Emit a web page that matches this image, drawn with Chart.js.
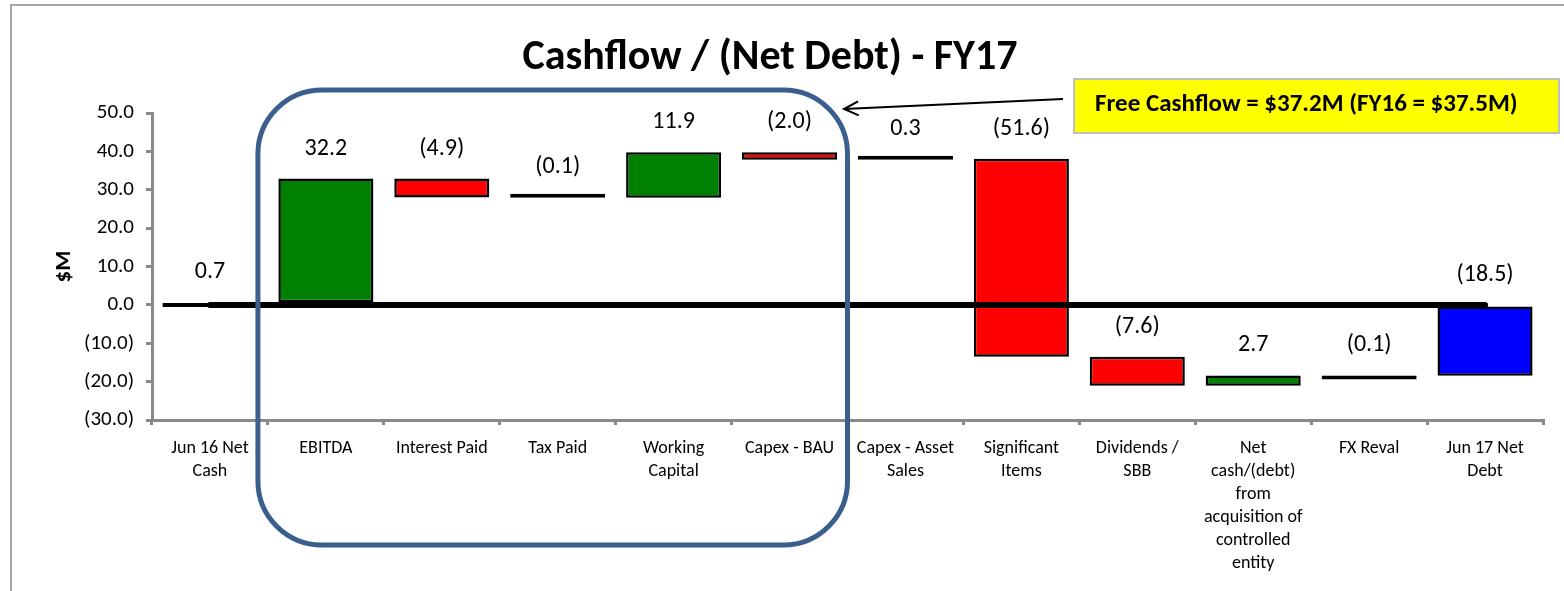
<!DOCTYPE html>
<html>
<head>
<meta charset="utf-8">
<script src="https://cdn.jsdelivr.net/npm/chart.js@4"></script>
<style>
html,body{margin:0;padding:0;background:#fff;}
#wrap{width:1564px;height:591px;position:relative;}
</style>
</head>
<body>
<div id="wrap"><canvas id="c" width="1564" height="591"></canvas></div>
<script>
// ---- data ----
const categories = [
  ["Jun 16 Net", "Cash"],
  ["EBITDA"],
  ["Interest Paid"],
  ["Tax Paid"],
  ["Working", "Capital"],
  ["Capex - BAU"],
  ["Capex - Asset", "Sales"],
  ["Significant", "Items"],
  ["Dividends /", "SBB"],
  ["Net", "cash/(debt)", "from", "acquisition of", "controlled", "entity"],
  ["FX Reval"],
  ["Jun 17 Net", "Debt"]
];
const changes = [0.7, 32.2, -4.9, -0.1, 11.9, -2.0, 0.3, -51.6, -7.6, 2.7, -0.1, -18.5];
const isTotal = [true, false, false, false, false, false, false, false, false, false, false, true];
const barColors = ["#0000FF", "#008000", "#FF0000", "#FF0000", "#008000", "#FF0000", "#008000", "#FF0000", "#FF0000", "#008000", "#FF0000", "#0000FF"];
const yTicks = {min: -30, max: 50, step: 10};
const titleText = "Cashflow / (Net Debt) - FY17";
const yAxisTitle = "$M";
const calloutText = "Free Cashflow = $37.2M (FY16 = $37.5M)";

// build floating ranges for the waterfall
const ranges = [];
let running = 0;
changes.forEach((v, i) => {
  if (isTotal[i]) { ranges.push([0, v]); running = v; }
  else { ranges.push([running, running + v]); running += v; }
});
const zeroLine = categories.map(() => 0);

const FONT = "Carlito, Lato, 'Open Sans', sans-serif";
const fmt = v => v < 0 ? "(" + Math.abs(v).toFixed(1) + ")" : v.toFixed(1);

const decorPlugin = {
  id: 'decor',
  beforeDraw(chart) {
    const ctx = chart.ctx;
    ctx.save();
    ctx.fillStyle = '#fff';
    ctx.fillRect(0, 0, chart.width, chart.height);
    ctx.strokeStyle = '#A6A6A6';
    ctx.lineWidth = 2;
    ctx.strokeRect(11, 5, 1580, 620);
    ctx.restore();
  },
  afterDraw(chart) {
    const ctx = chart.ctx;
    const x = chart.scales.x, y = chart.scales.y;
    const ca = chart.chartArea;
    ctx.save();
    // data labels
    ctx.font = "24px " + FONT;
    ctx.fillStyle = '#000';
    ctx.textAlign = 'center';
    ctx.textBaseline = 'middle';
    const meta = chart.getDatasetMeta(1);
    meta.data.forEach((el, i) => {
      const r = ranges[i];
      const topPx = y.getPixelForValue(Math.max(r[0], r[1]));
      ctx.fillText(fmt(changes[i]), el.x, topPx - 30);
    });
    // title
    ctx.font = "bold 42px " + FONT;
    ctx.fillText(titleText, 770, 58);
    // rounded highlight box
    const cw = x.getPixelForValue(1) - x.getPixelForValue(0);
    const L = x.getPixelForValue(1) - cw / 2 - 10;
    const R = x.getPixelForValue(5) + cw / 2;
    const T = ca.top - 23, B = ca.bottom + 125;
    ctx.strokeStyle = '#3A5F8E';
    ctx.lineWidth = 5;
    ctx.beginPath();
    ctx.roundRect(L, T, R - L, B - T, 64);
    ctx.stroke();
    // callout box
    ctx.fillStyle = '#FFFF00';
    ctx.fillRect(1074, 79, 485, 54);
    ctx.strokeStyle = '#BFBFBF';
    ctx.lineWidth = 2;
    ctx.strokeRect(1074, 79, 485, 54);
    ctx.fillStyle = '#000';
    ctx.font = "bold 25px " + FONT;
    ctx.textAlign = 'left';
    ctx.fillText(calloutText, 1095, 105);
    // arrow
    ctx.strokeStyle = '#000';
    ctx.lineWidth = 2;
    ctx.beginPath();
    ctx.moveTo(1063, 99);
    ctx.lineTo(844, 109);
    ctx.stroke();
    const ang = Math.atan2(109 - 99, 844 - 1063);
    ctx.beginPath();
    ctx.moveTo(844 - 16 * Math.cos(ang - 0.45), 109 - 16 * Math.sin(ang - 0.45));
    ctx.lineTo(844, 109);
    ctx.lineTo(844 - 16 * Math.cos(ang + 0.45), 109 - 16 * Math.sin(ang + 0.45));
    ctx.stroke();
    ctx.restore();
  }
};

new Chart(document.getElementById('c'), {
  data: {
    labels: categories,
    datasets: [
      {
        type: 'line',
        data: zeroLine,
        borderColor: '#000',
        borderWidth: 6,
        borderCapStyle: 'round',
        pointRadius: 0,
        order: 0
      },
      {
        type: 'bar',
        data: ranges,
        backgroundColor: barColors,
        borderColor: '#000',
        borderWidth: 2.5,
        borderSkipped: false,
        minBarLength: 4,
        barPercentage: 0.82,
        categoryPercentage: 1,
        order: 1
      }
    ]
  },
  options: {
    responsive: false,
    animation: false,
    layout: {padding: {left: 50, right: 21, top: 113, bottom: 0}},
    plugins: {legend: {display: false}, tooltip: {enabled: false}, title: {display: false}},
    scales: {
      x: {
        offset: true,
        grid: {display: true, drawOnChartArea: false, drawTicks: true, tickLength: 5, color: '#898989', lineWidth: 3, offset: true},
        border: {display: true, color: '#898989', width: 3},
        ticks: {autoSkip: false, maxRotation: 0, minRotation: 0, padding: 12, color: '#000',
                font: {family: FONT, size: 18, lineHeight: 1.28}},
        afterFit(s) { s.height = 171; }
      },
      y: {
        min: yTicks.min, max: yTicks.max,
        grid: {display: true, drawOnChartArea: false, drawTicks: true, tickLength: 6, color: '#898989', lineWidth: 3},
        border: {display: true, color: '#898989', width: 3},
        ticks: {stepSize: yTicks.step, padding: 12, color: '#000', font: {family: FONT, size: 21},
                callback: v => fmt(v)},
        title: {display: true, text: yAxisTitle, color: '#000', font: {family: FONT, size: 23, weight: 'bold'}, padding: {top: 0, bottom: 8}},
        afterFit(s) { s.width = 102; }
      }
    }
  },
  plugins: [decorPlugin]
});
</script>
</body>
</html>
